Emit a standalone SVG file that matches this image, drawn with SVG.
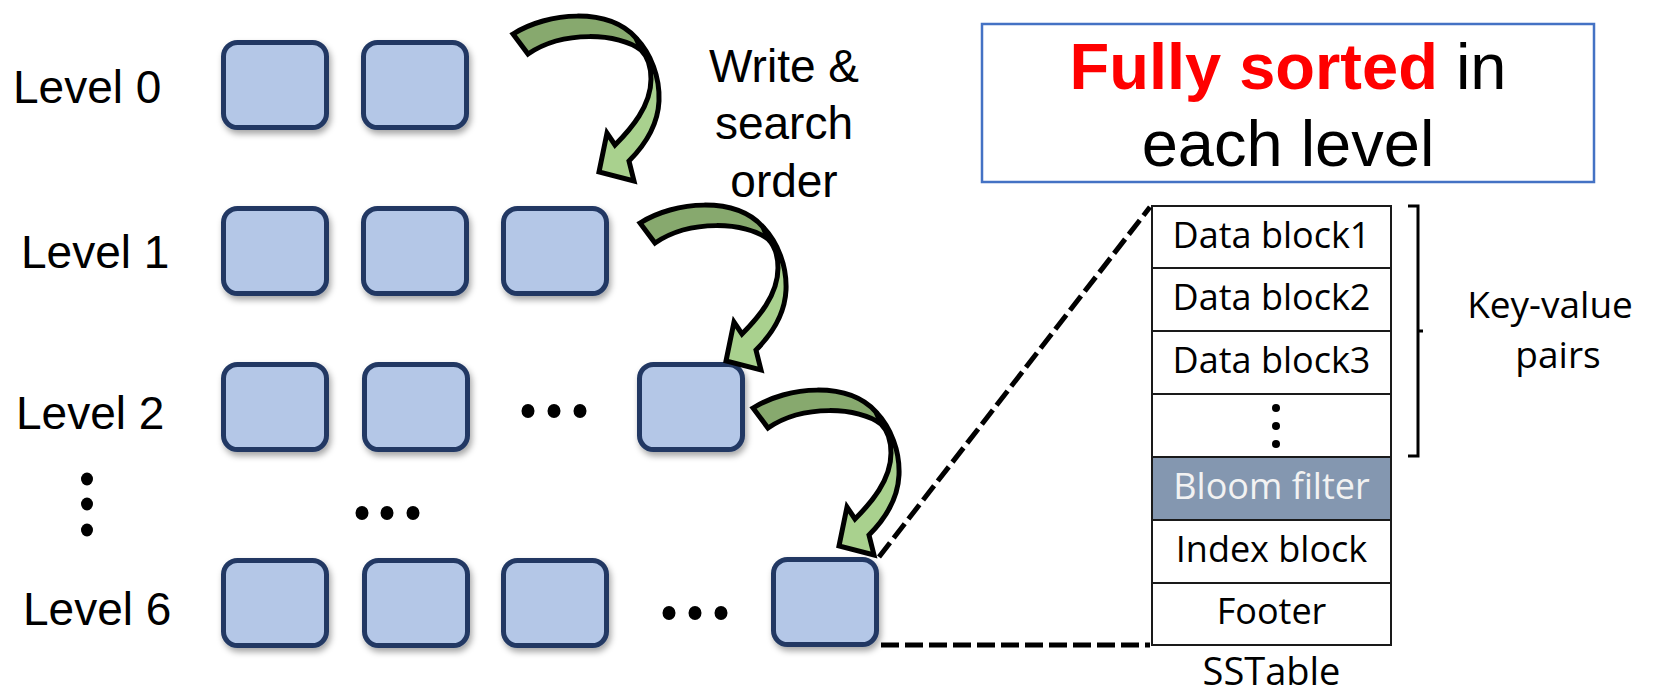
<svg xmlns="http://www.w3.org/2000/svg" xmlns:xlink="http://www.w3.org/1999/xlink" width="1670" height="695" viewBox="0 0 1670 695">
  <style>
    .lbl { font-family: "Liberation Sans", Arial, sans-serif; font-size: 46px; fill: #000; }
    .sst { font-family: "Open Sans", "Noto Sans", sans-serif; font-size: 36px; fill: #000; text-anchor: middle; }
    .file { fill: #b4c7e7; stroke: #203864; stroke-width: 5; }
    .row { fill: #fff; stroke: #1a1a1a; stroke-width: 2; }
    .bloom { fill: #8497b0; stroke: #1a1a1a; stroke-width: 2; }
    .dash { fill: none; stroke: #000; stroke-width: 5; stroke-dasharray: 18 6; }
    .arrow-line { fill: none; stroke: #000; stroke-width: 5; stroke-linejoin: miter; }
  </style>
  <defs>
    <filter id="shadow" x="-20%" y="-20%" width="150%" height="160%">
      <feDropShadow dx="2" dy="4" stdDeviation="3" flood-color="#000" flood-opacity="0.35"/>
    </filter>
    <!-- curved block arrow: dark back face at the tail, light front face at the head -->
    <g id="curvedArrow">
      <path fill="#a9d18e" d="M 640,223 C 675,201 735,196 763,227 C 778,243 787,266 786,290 C 785,312 773,333 756,350 L 761,370 L 726,361 L 734,322 L 742,334 C 758,318 778,295 778,268 C 778,255 774,245 768,239 C 746,222 690,219 655,243 Z"/>
      <path fill="#87a96e" d="M 640,223 C 675,201 735,196 763,227 L 768,239 C 746,222 690,219 655,243 Z"/>
      <path class="arrow-line" d="M 640,223 C 675,201 735,196 763,227 C 778,243 787,266 786,290 C 785,312 773,333 756,350 L 761,370 L 726,361 L 734,322 L 742,334 C 758,318 778,295 778,268 C 778,255 774,245 768,239 C 746,222 690,219 655,243 Z"/>
      <path class="arrow-line" d="M 763,227 L 768,239"/>
    </g>
  </defs>

  <rect width="1670" height="695" fill="#fff"/>

  <!-- level labels -->
  <g id="labels">
    <text class="lbl" x="13" y="103">Level 0</text>
    <text class="lbl" x="21" y="268">Level 1</text>
    <text class="lbl" x="16" y="429">Level 2</text>
    <text class="lbl" x="23" y="625">Level 6</text>
    <ellipse cx="87" cy="479" rx="6" ry="6.5"/>
    <ellipse cx="87" cy="504" rx="6" ry="6.5"/>
    <ellipse cx="87" cy="530" rx="6" ry="6.5"/>
  </g>

  <!-- SST files per level -->
  <g id="level0" filter="url(#shadow)">
    <rect class="file" x="223.5" y="42.5" width="103" height="85" rx="14"/>
    <rect class="file" x="363.5" y="42.5" width="103" height="85" rx="14"/>
  </g>
  <g id="level1" filter="url(#shadow)">
    <rect class="file" x="223.5" y="208.5" width="103" height="85" rx="14"/>
    <rect class="file" x="363.5" y="208.5" width="103" height="85" rx="14"/>
    <rect class="file" x="503.5" y="208.5" width="103" height="85" rx="14"/>
  </g>
  <g id="level2">
    <g filter="url(#shadow)">
      <rect class="file" x="223.5" y="364.5" width="103" height="85" rx="14"/>
      <rect class="file" x="364.5" y="364.5" width="103" height="85" rx="14"/>
      <rect class="file" x="639.5" y="364.5" width="103" height="85" rx="14"/>
    </g>
    <ellipse cx="528" cy="411" rx="6.5" ry="7"/>
    <ellipse cx="554" cy="411" rx="6.5" ry="7"/>
    <ellipse cx="580" cy="411" rx="6.5" ry="7"/>
  </g>
  <g id="levelGap">
    <ellipse cx="362" cy="513" rx="6.5" ry="7"/>
    <ellipse cx="387" cy="513" rx="6.5" ry="7"/>
    <ellipse cx="413" cy="513" rx="6.5" ry="7"/>
  </g>
  <g id="level6">
    <g filter="url(#shadow)">
      <rect class="file" x="223.5" y="560.5" width="103" height="85" rx="14"/>
      <rect class="file" x="364.5" y="560.5" width="103" height="85" rx="14"/>
      <rect class="file" x="503.5" y="560.5" width="103" height="85" rx="14"/>
      <rect class="file" x="773.5" y="559.5" width="103" height="85" rx="14"/>
    </g>
    <ellipse cx="669" cy="613" rx="6.5" ry="7"/>
    <ellipse cx="695" cy="613" rx="6.5" ry="7"/>
    <ellipse cx="721" cy="613" rx="6.5" ry="7"/>
  </g>

  <!-- order caption -->
  <g id="orderCaption">
    <text class="lbl" x="784" y="82" text-anchor="middle">Write &amp;</text>
    <text class="lbl" x="784" y="139" text-anchor="middle">search</text>
    <text class="lbl" x="784" y="197" text-anchor="middle">order</text>
  </g>

  <!-- sorted note -->
  <g id="sortedNote">
    <rect x="982" y="24" width="612" height="158" fill="#fff" stroke="#4472c4" stroke-width="2.5"/>
    <text x="1288" y="89" text-anchor="middle" font-family="Liberation Sans, Arial, sans-serif" font-size="65"><tspan fill="#ff0000" font-weight="bold">Fully sorted</tspan><tspan fill="#000"> in</tspan></text>
    <text x="1288" y="166" text-anchor="middle" font-family="Liberation Sans, Arial, sans-serif" font-size="65" fill="#000">each level</text>
  </g>

  <!-- SSTable layout -->
  <g id="sstable">
    <rect class="row" x="1152" y="206" width="239" height="62"/>
    <rect class="row" x="1152" y="268" width="239" height="63"/>
    <rect class="row" x="1152" y="331" width="239" height="63"/>
    <rect class="row" x="1152" y="394" width="239" height="63"/>
    <rect class="bloom" x="1152" y="457" width="239" height="63"/>
    <rect class="row" x="1152" y="520" width="239" height="63"/>
    <rect class="row" x="1152" y="583" width="239" height="62"/>
    <text class="sst" x="1271.5" y="248">Data block1</text>
    <text class="sst" x="1271.5" y="310">Data block2</text>
    <text class="sst" x="1271.5" y="373">Data block3</text>
    <circle cx="1276" cy="408" r="4"/>
    <circle cx="1276" cy="426" r="4"/>
    <circle cx="1276" cy="444" r="4"/>
    <text class="sst" x="1271.5" y="499" style="fill:#f2f2f2">Bloom filter</text>
    <text class="sst" x="1271.5" y="562">Index block</text>
    <text class="sst" x="1271.5" y="624">Footer</text>
    <text class="sst" x="1271.5" y="685" style="font-size:38px">SSTable</text>
  </g>

  <!-- key-value bracket -->
  <g id="kvBracket">
    <path d="M 1408,206 L 1418,206 L 1418,456 L 1408,456 M 1418,331 L 1423,331" fill="none" stroke="#000" stroke-width="3"/>
    <text class="sst" x="1550" y="318" style="font-size:37px">Key-value</text>
    <text class="sst" x="1558" y="368" style="font-size:37px">pairs</text>
  </g>

  <!-- connectors -->
  <g id="connectors">
    <use xlink:href="#curvedArrow" transform="translate(-127,-189)"/>
    <use xlink:href="#curvedArrow"/>
    <use xlink:href="#curvedArrow" transform="translate(113,185)"/>
    <path class="dash" d="M 879,557 L 1150,207"/>
    <path class="dash" d="M 881,645 L 1150,645"/>
  </g>
</svg>
